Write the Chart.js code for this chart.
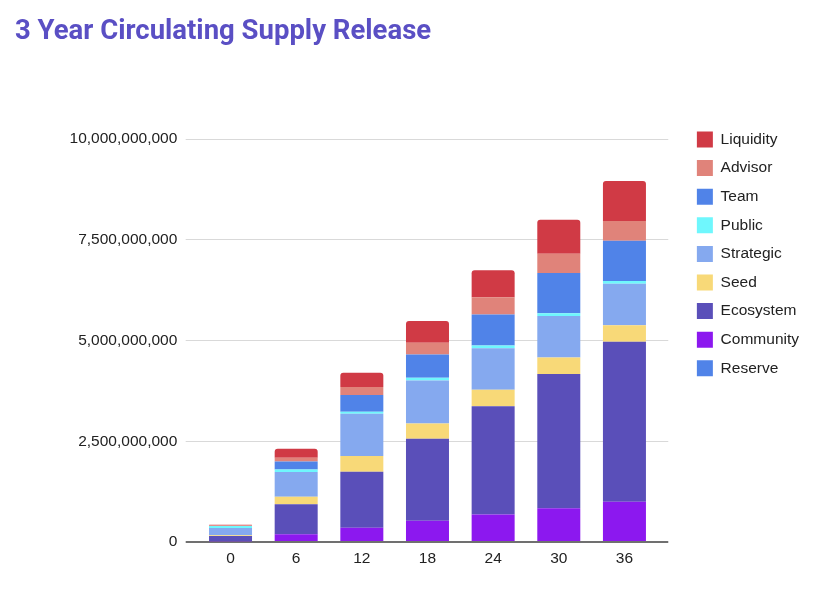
<!DOCTYPE html>
<html>
<head>
<meta charset="utf-8">
<script src="https://cdn.jsdelivr.net/npm/chart.js@4.4.1/dist/chart.umd.min.js"></script>
<style>
html,body{margin:0;padding:0;background:#fff;}
#wrap{width:819px;height:592px;position:relative;}
</style>
</head>
<body>
<div id="wrap"><canvas id="c" width="819" height="592"></canvas></div>
<script>
// ---- data (values in tokens) ----
const months = ['0', '6', '12', '18', '24', '30', '36'];
const reserve   = [0, 0, 0, 0, 0, 0, 0];
const community = [0.02e9, 0.19e9, 0.355e9, 0.53e9, 0.68e9, 0.84e9, 1.0e9];
const ecosystem = [0.13e9, 0.745e9, 1.39e9, 2.03e9, 2.69e9, 3.33e9, 3.97e9];
const seed      = [0.02e9, 0.19e9, 0.39e9, 0.38e9, 0.41e9, 0.41e9, 0.41e9];
const strategic = [0.18e9, 0.61e9, 1.05e9, 1.07e9, 1.03e9, 1.03e9, 1.03e9];
const publicS   = [0.05e9, 0.065e9, 0.05e9, 0.065e9, 0.065e9, 0.065e9, 0.065e9];
const team      = [0, 0.2e9, 0.41e9, 0.58e9, 0.77e9, 1.0e9, 1.0e9];
const advisor   = [0.01e9, 0.09e9, 0.2e9, 0.29e9, 0.43e9, 0.48e9, 0.49e9];
const liquidity = [0.02e9, 0.223e9, 0.357e9, 0.536e9, 0.67e9, 0.84e9, 0.99e9];
const yTicks = [0, 2.5e9, 5e9, 7.5e9, 10e9];

const FONT = "'Liberation Sans', Arial, sans-serif";
const gridColor = ctx => (ctx.tick && ctx.tick.value === 0) ? '#707070' : '#d9d9d9';
const gridWidth = ctx => (ctx.tick && ctx.tick.value === 0) ? 2 : 1;
const setTicks = s => { s.ticks = yTicks.map(v => ({ value: v })); };

const ds = (label, data, color, extra) => Object.assign({
  label, data, backgroundColor: color, borderWidth: 0,
  barPercentage: 0.655, categoryPercentage: 1.0
}, extra || {});

new Chart(document.getElementById('c'), {
  type: 'bar',
  data: {
    labels: months,
    datasets: [
      ds('Reserve', reserve, '#5083e8'),
      ds('Community', community, '#8c18ef'),
      ds('Ecosystem', ecosystem, '#5a4fb9'),
      ds('Seed', seed, '#f8d978'),
      ds('Strategic', strategic, '#85a9ef'),
      ds('Public', publicS, '#6ff7fd'),
      ds('Team', team, '#5083e8'),
      ds('Advisor', advisor, '#e0837a'),
      ds('Liquidity', liquidity, '#d03a45', { borderRadius: { topLeft: 3, topRight: 3, bottomLeft: 0, bottomRight: 0 }, borderSkipped: 'start' })
    ]
  },
  options: {
    responsive: false,
    animation: false,
    devicePixelRatio: 1,
    layout: { padding: { left: 15, right: 10, top: 0, bottom: 0 } },
    plugins: {
      title: {
        display: true,
        text: '3 Year Circulating Supply Release',
        align: 'start',
        color: '#5a4fc4',
        font: { family: 'Roboto', size: 27.5, weight: 'bold' },
        padding: { top: 15.5, bottom: 90.5 }
      },
      legend: {
        position: 'right',
        align: 'start',
        reverse: true,
        title: { display: true, text: '', font: { size: 12 }, padding: { top: 104.5, bottom: 0 } },
        labels: {
          boxWidth: 16, boxHeight: 16, padding: 12.6,
          color: '#222', font: { family: FONT, size: 15.5 }
        }
      },
      tooltip: { enabled: false }
    },
    scales: {
      x: {
        stacked: true,
        z: 1,
        grid: { display: false, drawTicks: false },
        border: { display: true, color: '#707070', width: 2 },
        ticks: { color: '#222', font: { family: FONT, size: 15.5 }, padding: 7 },
        afterFit: s => { s.height = 50; }
      },
      y: {
        stacked: true,
        min: 0, max: 10e9,
        afterBuildTicks: setTicks,
        ticks: { color: '#222', font: { family: FONT, size: 15.5 }, padding: 8.4,
                 callback: v => Number(v).toLocaleString('en-US') },
        grid: { color: gridColor, lineWidth: gridWidth, drawTicks: true, tickLength: 12 },
        border: { display: false },
        afterFit: s => { s.width = 182.7; }
      },
      y2: {
        position: 'right',
        min: 0, max: 10e9,
        afterBuildTicks: setTicks,
        ticks: { display: false },
        grid: { color: gridColor, lineWidth: gridWidth, drawOnChartArea: false, drawTicks: true, tickLength: 11 },
        border: { display: false },
        afterFit: s => { s.width = 27; }
      }
    }
  }
});
</script>
</body>
</html>
